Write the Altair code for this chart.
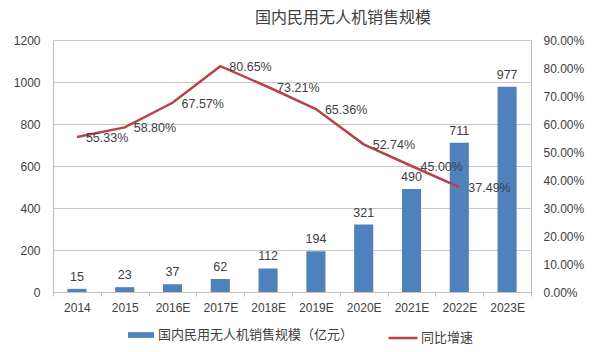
import altair as alt
import pandas as pd

years = ["2014", "2015", "2016E", "2017E", "2018E", "2019E", "2020E", "2021E", "2022E", "2023E"]
sales = [15, 23, 37, 62, 112, 194, 321, 490, 711, 977]
growth_years = ["2014", "2015", "2016E", "2017E", "2018E", "2019E", "2020E", "2021E", "2022E"]
growth = [55.33, 58.80, 67.57, 80.65, 73.21, 65.36, 52.74, 45.00, 37.49]
left_ticks = [0, 200, 400, 600, 800, 1000, 1200]
right_ticks = [0, 0.1, 0.2, 0.3, 0.4, 0.5, 0.6, 0.7, 0.8, 0.9]

bar_name = "国内民用无人机销售规模（亿元）"
line_name = "同比增速"
title_text = "国内民用无人机销售规模"

df_bar = pd.DataFrame({"year": years, "sales": sales, "series": bar_name})
df_line = pd.DataFrame({
    "year": growth_years,
    "rate": [g / 100 for g in growth],
    "label": [f"{g:.2f}%" for g in growth],
    "series": line_name,
})

BLUE = "#4F81BD"
RED = "#B8434B"
TXT = "#404040"
NUM_FONT = "Liberation Sans"
CJK_FONT = "Noto Sans CJK SC"

x_axis = alt.Axis(labelAngle=0, labelFont=NUM_FONT, labelFontSize=12,
                  labelColor=TXT, tickBand="extent", ticks=True, tickSize=4,
                  tickColor="#bfbfbf", domainColor="#bfbfbf", labelPadding=6,
                  grid=False)
x_enc = alt.X("year:N", sort=years, title=None,
              scale=alt.Scale(paddingInner=0, paddingOuter=0), axis=x_axis)

left_axis = alt.Axis(values=left_ticks, orient="left", format="d", labelOverlap=False,
                     labelFont=NUM_FONT, labelFontSize=12, labelColor=TXT,
                     ticks=False, labelPadding=13, domainColor="#bfbfbf",
                     grid=True, gridColor="#c8c8c8")
right_axis = alt.Axis(values=right_ticks, orient="right", format=".2%", labelOverlap=False,
                      labelFont=NUM_FONT, labelFontSize=12, labelColor=TXT, ticks=False,
                      labelPadding=12, domainColor="#bfbfbf", grid=False)

left_scale = alt.Scale(domain=[0, 1200], nice=False)
right_scale = alt.Scale(domain=[0, 0.9], nice=False)

bars = alt.Chart(df_bar).mark_bar(width=alt.RelativeBandSize(0.4)).encode(
    x=x_enc,
    y=alt.Y("sales:Q", title=None, scale=left_scale, axis=left_axis),
    fill=alt.Fill("series:N", scale=alt.Scale(domain=[bar_name], range=[BLUE]),
                  legend=alt.Legend(title=None, orient="none", legendX=75, legendY=282,
                                    symbolType="M-1,-0.22H1V0.22H-1Z", symbolSize=676,
                                    symbolStrokeWidth=0, labelFont=CJK_FONT,
                                    labelFontSize=13, labelColor=TXT, labelOffset=4,
                                    labelLimit=400, padding=0)),
)

bar_text = alt.Chart(df_bar).mark_text(baseline="alphabetic", dy=-8, font=NUM_FONT,
                                       fontSize=12.5, color=TXT).encode(
    x=x_enc,
    y=alt.Y("sales:Q", title=None, scale=left_scale, axis=left_axis),
    text=alt.Text("sales:Q"),
)

line = alt.Chart(df_line).mark_line(strokeWidth=2.5).encode(
    x=x_enc,
    y=alt.Y("rate:Q", title=None, scale=right_scale, axis=right_axis),
    stroke=alt.Stroke("series:N", scale=alt.Scale(domain=[line_name], range=[RED]),
                      legend=alt.Legend(title=None, orient="none", legendX=334, legendY=282,
                                        symbolType="stroke", symbolSize=841,
                                        symbolStrokeWidth=2.5, labelFont=CJK_FONT,
                                        labelFontSize=13, labelColor=TXT, labelOffset=2,
                                        labelLimit=400, padding=0)),
)

line_text = alt.Chart(df_line).mark_text(align="left", baseline="middle", dx=9, dy=1,
                                         font=NUM_FONT, fontSize=12.5, color=TXT).encode(
    x=x_enc,
    y=alt.Y("rate:Q", title=None, scale=right_scale, axis=right_axis),
    text="label:N",
)

chart = alt.layer(
    alt.layer(bars, bar_text),
    alt.layer(line, line_text),
).resolve_scale(y="independent").properties(
    width=478,
    height=252,
    padding={"left": 53, "top": 40, "right": 78, "bottom": 60},
    autosize=alt.AutoSizeParams(type="none"),
    title=alt.TitleParams(title_text, font=CJK_FONT, fontSize=16, fontWeight="normal",
                          color=TXT, anchor="start", frame="group", dx=202, offset=-5,
                          baseline="alphabetic"),
).configure_view(stroke="#bfbfbf").configure(background="white")

chart.save("out.html", embed_options={"renderer": "svg", "actions": False})
